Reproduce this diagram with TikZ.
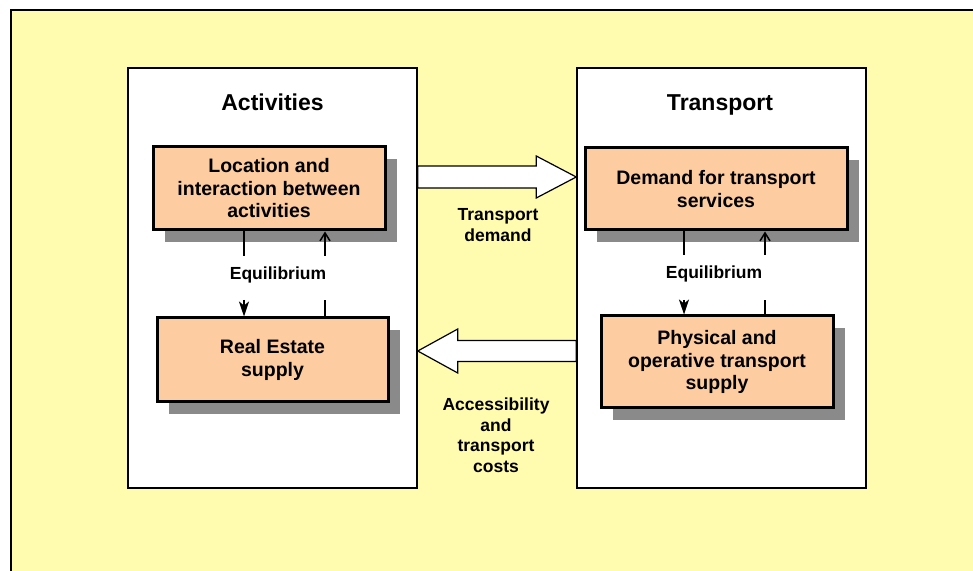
\documentclass[tikz,border=0pt]{standalone}
\usepackage{fontspec}
\setmainfont{Liberation Sans}
\usetikzlibrary{shadows, arrows.meta, calc}
\definecolor{paleyellow}{RGB}{255,252,175}
\definecolor{peach}{RGB}{253,204,160}

\begin{document}
\begin{tikzpicture}[x=1pt, y=1pt,
		panel/.style={draw=black, line width=1.5pt, fill=white, minimum width=289pt, minimum height=420pt},
		stage/.style={draw=black, line width=3pt, fill=peach, align=center, inner sep=0pt,
			font=\fontsize{19.5}{22.5}\selectfont\bfseries,
			drop shadow={shadow xshift=12pt, shadow yshift=-12pt, fill=black!46, opacity=1}},
		title/.style={anchor=base, font=\fontsize{23}{27}\selectfont\bfseries},
		flowlabel/.style={align=center, font=\fontsize{17.5}{20.5}\selectfont\bfseries},
		stub/.style={line width=1.5pt},
		blockarrow/.style={draw=black, line width=1.2pt, fill=white, line join=miter}]
	\clip (0,0) rectangle (973,570);
	\draw[line width=1.5pt, fill=paleyellow] (11,560) rectangle (1000,-30);
	
	% the two panels
	\node[panel] (actpanel) at (272.5,292) {};
	\node[panel] (trpanel) at (721.5,292) {};
	\node[title] (acttitle) at (272.5,459) {Activities};
	\node[title] (trtitle) at (720,459) {Transport};
	
	\node[stage, minimum width=232pt, minimum height=83pt] (loc) at (269,381.5)
		{Location and\\interaction between\\activities};
	\node[stage, minimum width=231pt, minimum height=84pt] (res) at (272.5,210)
		{Real Estate\\supply};
	\node[stage, minimum width=262pt, minimum height=82pt] (dem) at (716,381)
		{Demand for transport\\services};
	\node[stage, minimum width=232pt, minimum height=92pt] (sup) at (717,208)
		{Physical and\\operative transport\\supply};
	
	% equilibrium loops
	\node[flowlabel] (eqact) at (278,295) {Equilibrium};
	\node[flowlabel] (eqtr) at (714,296) {Equilibrium};
	\coordinate (actdownA) at (244,314);
	\coordinate (actdownB) at (244,270);
	\coordinate (actupA) at (325,270);
	\coordinate (actupB) at (325,314);
	\coordinate (trdownA) at (684,315);
	\coordinate (trdownB) at (684,270);
	\coordinate (trupA) at (765,270);
	\coordinate (trupB) at (765,315);
	\draw[stub] (loc.south -| actdownA) -- (actdownA);
	\draw[stub, -{Stealth[length=15pt, width=10pt, inset=4pt]}] (actdownB) -- (res.north -| actdownB);
	\draw[stub] (res.north -| actupA) -- (actupA);
	\draw[stub, -{Straight Barb[length=8pt, width=10pt]}] (actupB) -- (loc.south -| actupB);
	\draw[stub] (dem.south -| trdownA) -- (trdownA);
	\draw[stub, -{Stealth[length=15pt, width=10pt, inset=4pt]}] (trdownB) -- (sup.north -| trdownB);
	\draw[stub] (sup.north -| trupA) -- (trupA);
	\draw[stub, -{Straight Barb[length=8pt, width=10pt]}] (trupB) -- (dem.south -| trupB);
	
	% block arrows between the panels
	\coordinate (tdmid) at (0,393);
	\coordinate (tdtail) at (actpanel.east |- tdmid);
	\coordinate (tdtip) at (trpanel.west |- tdmid);
	\draw[blockarrow] ($(tdtail)+(0,11)$) -- ($(tdtip)+(-40,11)$) -- ($(tdtip)+(-40,21)$) -- (tdtip)
		-- ($(tdtip)+(-40,-21)$) -- ($(tdtip)+(-40,-11)$) -- ($(tdtail)+(0,-11)$) -- cycle;
	\coordinate (acmid) at (0,219);
	\coordinate (actail) at (trpanel.west |- acmid);
	\coordinate (actip) at (actpanel.east |- acmid);
	\draw[blockarrow] ($(actail)+(0,10.5)$) -- ($(actip)+(40,10.5)$) -- ($(actip)+(40,22)$) -- (actip)
		-- ($(actip)+(40,-22)$) -- ($(actip)+(40,-10.5)$) -- ($(actail)+(0,-10.5)$) -- cycle;
	\node[flowlabel] (tdlabel) at (498,345) {Transport\\demand};
	\node[flowlabel] (aclabel) at (496,135) {Accessibility\\and\\transport\\costs};
\end{tikzpicture}
\end{document}
